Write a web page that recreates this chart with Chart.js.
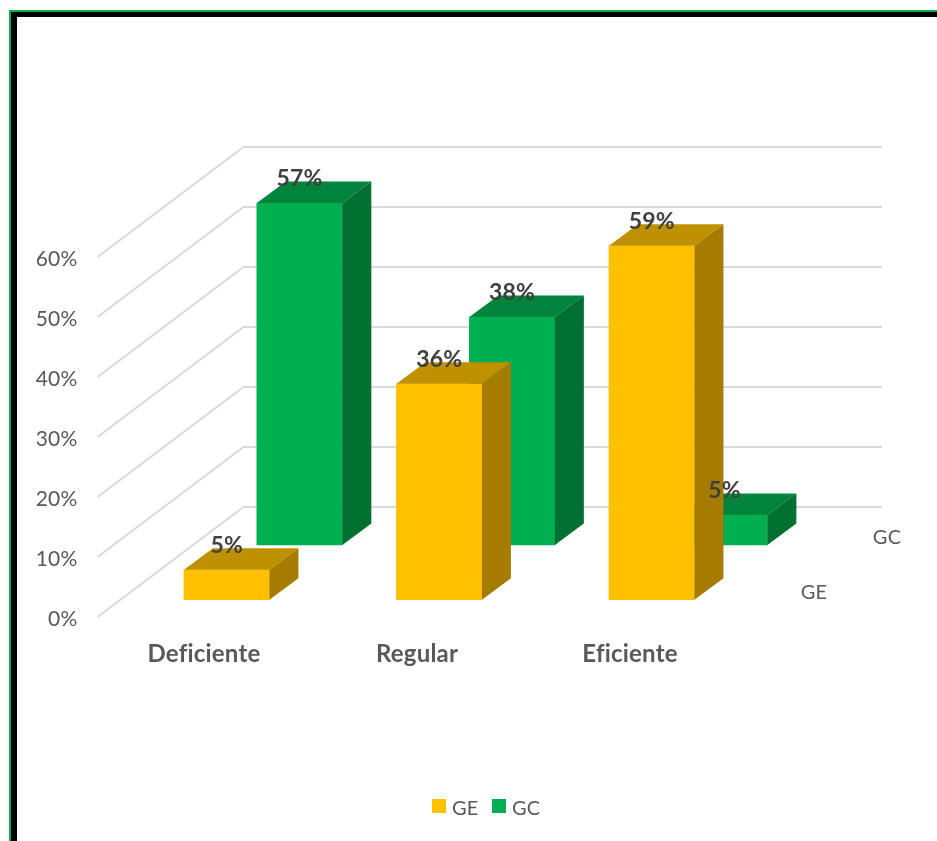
<!DOCTYPE html>
<html>
<head>
<meta charset="utf-8">
<title>GE / GC</title>
<script src="https://cdn.jsdelivr.net/npm/chart.js@4"></script>
<style>
  html, body { margin: 0; height: 100%; background: #fff; overflow: hidden; }
  #frame { position: absolute; left: 9px; top: 10px; right: 0; bottom: 0; border-left: 2px solid #00b050; border-top: 2px solid #00b050; }
  #frame div { position: absolute; left: 0; top: 0; right: 0; bottom: 0; border-left: 6px solid #000; border-top: 5px solid #000; }
  canvas { position: absolute; left: 0; top: 0; }
</style>
</head>
<body>
<div id="frame"><div></div></div>
<canvas id="chart" width="937" height="841"></canvas>
<script>
const categories = ['Deficiente', 'Regular', 'Eficiente'];
const geValues = [5, 36, 59];
const gcValues = [57, 38, 5];

const FONT = 'Lato, Carlito, sans-serif';
const TEXT = '#595959';

// fake 3d: wall depth and bar depth in pixels
const wallDepth = { dx: 146, dy: -110 };
const barDepth = { dx: 29, dy: -21.5 };

const wallPlugin = {
    id: 'wall',
    beforeDraw(chart) {
        // a little letter spacing also switches off the "fi" ligature in Lato
        chart.ctx.letterSpacing = '0.2px';
    },
    beforeDatasetsDraw(chart) {
        const c = chart.ctx, y = chart.scales.y, left = chart.chartArea.left;
        c.save();
        c.strokeStyle = '#d9d9d9';
        c.lineWidth = 2;
        y.ticks.forEach(t => {
            const py = y.getPixelForValue(t.value);
            c.beginPath();
            c.moveTo(left, py);
            c.lineTo(left + wallDepth.dx, py + wallDepth.dy);
            c.lineTo(882, py + wallDepth.dy);
            c.stroke();
        });
        c.restore();
    }
};

const facesPlugin = {
    id: 'faces',
    afterDatasetDraw(chart, args) {
        const c = chart.ctx, ds = chart.data.datasets[args.index];
        const { dx, dy } = barDepth;
        chart.getDatasetMeta(args.index).data.forEach(b => {
            const l = b.x - b.width / 2, r = b.x + b.width / 2;
            c.fillStyle = ds.topColor;
            c.beginPath();
            c.moveTo(l, b.y);
            c.lineTo(l + dx, b.y + dy);
            c.lineTo(r + dx, b.y + dy);
            c.lineTo(r, b.y);
            c.closePath();
            c.fill();
            c.fillStyle = ds.sideColor;
            c.beginPath();
            c.moveTo(r, b.y);
            c.lineTo(r + dx, b.y + dy);
            c.lineTo(r + dx, b.base + dy);
            c.lineTo(r, b.base);
            c.closePath();
            c.fill();
        });
    }
};

const labelsPlugin = {
    id: 'labels',
    afterDatasetsDraw(chart) {
        const c = chart.ctx;
        c.save();
        c.textAlign = 'center';
        c.textBaseline = 'middle';

        // value labels
        c.font = 'bold 23px ' + FONT;
        c.fillStyle = '#404040';
        chart.data.datasets.forEach((ds, i) => {
            chart.getDatasetMeta(i).data.forEach((b, j) => {
                c.fillText(ds.data[j].y + '%', b.x, b.y - 24);
            });
        });

        // series names on the depth axis
        c.font = '20px ' + FONT;
        c.fillStyle = TEXT;
        c.fillText('GC', 887, 538);
        c.fillText('GE', 814, 593);

        // legend
        c.textAlign = 'left';
        chart.data.datasets.forEach((ds, i) => {
            const x = i === 0 ? 432 : 492;
            c.fillStyle = ds.backgroundColor;
            c.fillRect(x, 799, 14, 14);
            c.fillStyle = TEXT;
            c.fillText(ds.label, x + 20, 809);
        });
        c.restore();
    }
};

new Chart(document.getElementById('chart'), {
    type: 'bar',
    data: {
        labels: categories,
        datasets: [
            {
                label: 'GE',
                data: categories.map((c, i) => ({ x: i, y: geValues[i] })),
                backgroundColor: '#ffc000',
                topColor: '#bf9000',
                sideColor: '#a67c00',
                xAxisID: 'xGE',
                yAxisID: 'yGE',
                barThickness: 85.5,
                grouped: false,
                clip: false
            },
            {
                label: 'GC',
                data: categories.map((c, i) => ({ x: i, y: gcValues[i] })),
                backgroundColor: '#00b050',
                topColor: '#00843c',
                sideColor: '#007030',
                xAxisID: 'xGC',
                yAxisID: 'yGC',
                barThickness: 85.5,
                grouped: false,
                clip: false
            }
        ]
    },
    plugins: [wallPlugin, facesPlugin, labelsPlugin],
    options: {
        responsive: false,
        animation: false,
        layout: { padding: { top: 257, right: 200.5, left: 0, bottom: 0 } },
        plugins: {
            legend: { display: false },
            tooltip: { enabled: false }
        },
        scales: {
            x: {
                type: 'category',
                grid: { display: false },
                border: { display: false },
                afterFit: s => { s.height = 224; },
                ticks: {
                    padding: 15,
                    maxRotation: 0,
                    color: TEXT,
                    font: { family: FONT, size: 24, weight: 'bold' }
                }
            },
            y: {
                min: 0,
                max: 60,
                grid: { display: false },
                border: { display: false },
                afterFit: s => { s.width = 97.5; },
                ticks: {
                    stepSize: 10,
                    padding: 12,
                    labelOffset: 2,
                    color: TEXT,
                    font: { family: FONT, size: 21 },
                    callback: v => v + '%'
                }
            },
            // each series sits on its own plane, so it gets its own hidden axes
            xGE: { type: 'linear', display: false, offset: false, min: -0.608, max: 2.399 },
            xGC: { type: 'linear', display: false, offset: false, min: -0.951, max: 2.056 },
            yGE: { display: false, min: -2.88, max: 57.12 },
            yGC: { display: false, min: -12, max: 48 }
        }
    }
});
</script>
</body>
</html>
